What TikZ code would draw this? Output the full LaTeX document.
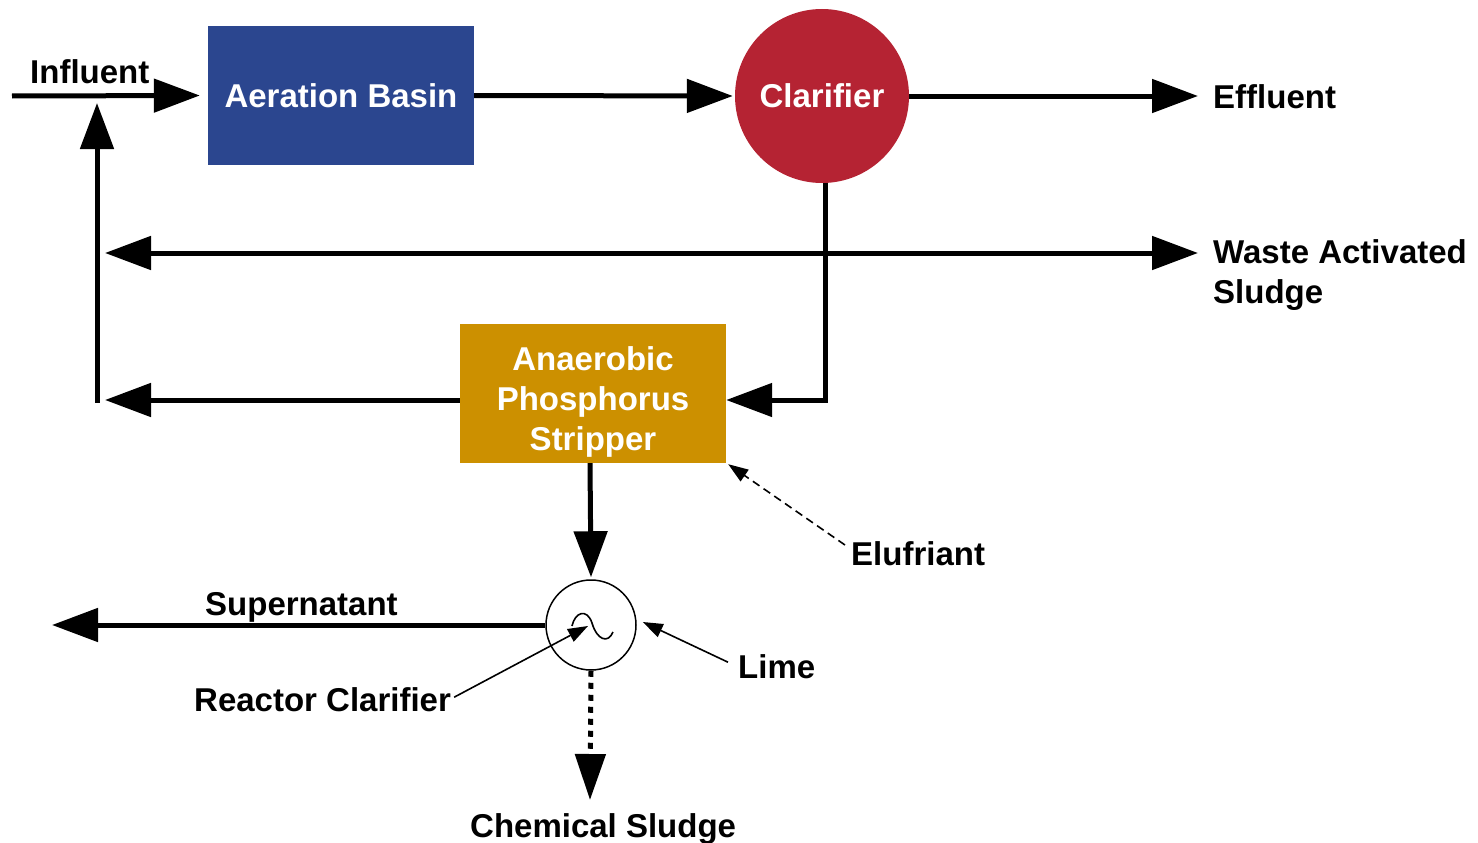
\documentclass[tikz,border=0pt]{standalone}
\usepackage{fontspec}
\setmainfont{Liberation Sans}
\usetikzlibrary{arrows.meta}
\definecolor{basinblue}{RGB}{43,70,143}
\definecolor{clarred}{RGB}{181,35,51}
\definecolor{apsgold}{RGB}{204,144,0}
\begin{document}
\begin{tikzpicture}[x=1pt,y=-1pt,
  lbl/.style={font=\fontsize{33}{40}\selectfont\bfseries, inner sep=0pt},
  box/.style={inner sep=0pt, text=white, font=\fontsize{33}{40}\selectfont\bfseries, align=center},
  flow/.style={line width=5pt, -{Triangle[length=46pt,width=33pt]}},
  pointer/.style={line width=1.6pt, -{Triangle[length=20pt,width=14pt]}}]
\useasboundingbox (0,0) rectangle (1478,843);

% process units
\node[box, fill=basinblue, minimum width=266pt, minimum height=139pt] (basin) at (341,95.5) {Aeration Basin};
\node[box, circle, fill=clarred, minimum size=174pt] (clar) at (822,96) {Clarifier};
\node[box, fill=apsgold, minimum width=266pt, minimum height=139pt] (aps) at (593,393.5) {\rule{0pt}{40pt}Anaerobic\\Phosphorus\\Stripper};
\node[circle, draw, line width=1.5pt, minimum size=90pt, inner sep=0pt] (rc) at (591,625) {};

% labels
\node[lbl, anchor=base west] (infl) at (30,84) {Influent};
\node[lbl, anchor=base west] (effl) at (1213,108) {Effluent};
\node[lbl, anchor=base west, align=left] (was) at (1213,303) {Waste Activated\\Sludge};
\node[lbl, anchor=base west] (elu) at (851,565) {Elufriant};
\node[lbl, anchor=base west] (sup) at (205,615) {Supernatant};
\node[lbl, anchor=base west] (rcl) at (194,711) {Reactor Clarifier};
\node[lbl, anchor=base west] (lime) at (738,678) {Lime};
\node[lbl, anchor=base west] (chem) at (470,837) {Chemical Sludge};

% free ends
\coordinate (inS) at (12,96);
\coordinate (effT) at (1198,96);
\coordinate (bend) at (825,400);
\coordinate (retT) at (105,400);
\coordinate (retB) at (97,402.5);
\coordinate (retUp) at (97,103);
\coordinate (wasL) at (105,253);
\coordinate (wasR) at (1198,253);
\coordinate (supT) at (52,625);
\coordinate (chemT) at (590,800);
\coordinate (eluS) at (845,545);

% main flow
\draw[flow] (inS) -- ([xshift=-8pt]basin.west);
\draw[flow] (basin.east) -- ([xshift=-2pt]clar.west);
\draw[flow] (clar.east) -- (effT);
\draw[flow] ([xshift=3pt]clar.south) -- (bend) -- ([yshift=-6.5pt]aps.east);
\draw[flow] ([yshift=-6.5pt]aps.west) -- (retT);
\draw[flow] (retB) -- (retUp);
\draw[line width=5pt, {Triangle[length=46pt,width=33pt]}-{Triangle[length=46pt,width=33pt]}] (wasL) -- (wasR);
\draw[flow] ([xshift=-3pt]aps.south) -- ([yshift=2pt]rc.north);
\draw[flow] (rc.west) -- (supT);
\draw[line width=5pt, dash pattern=on 6pt off 6pt, -{Triangle[length=46pt,width=30pt]}] (rc.south) -- (chemT);

% pointers
\draw[pointer, dash pattern=on 8pt off 5pt] (eluS) -- ([xshift=2pt,yshift=-1pt]aps.south east);
\draw[pointer] ([xshift=3pt,yshift=2pt]rcl.east) -- ([xshift=-3pt,yshift=-1pt]rc.center);
\draw[pointer] ([xshift=-10pt,yshift=4pt]lime.west) -- ([xshift=6pt,yshift=3pt]rc.east);

% mixer symbol
\draw[line width=1.6pt] (572,626) .. controls (575,612) and (587,608) .. (592,623) .. controls (597,640) and (608,644) .. (613,632);
\end{tikzpicture}
\end{document}
